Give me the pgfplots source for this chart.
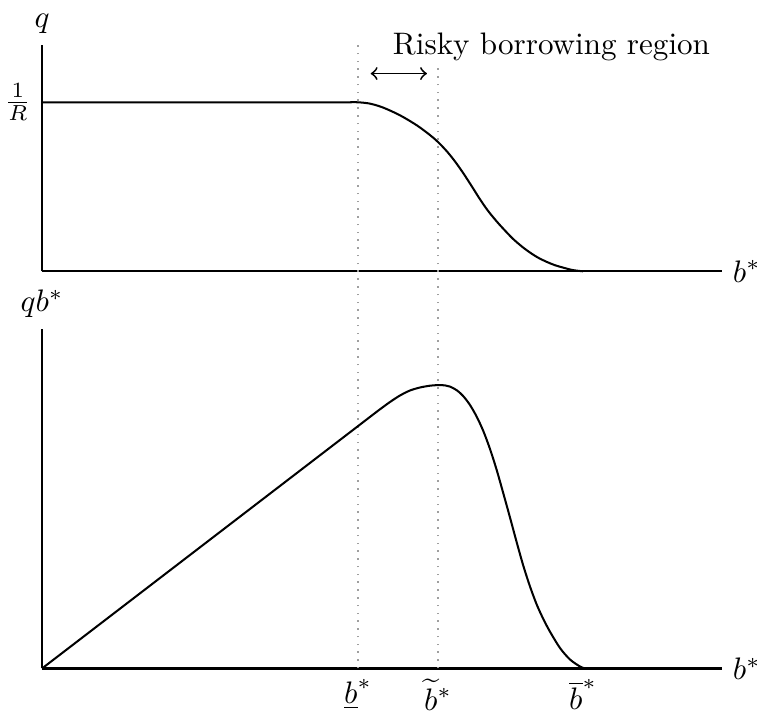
\documentclass[border=0pt]{standalone}
\usepackage{pgfplots}
\pgfplotsset{compat=1.18}

% one drawing unit
\newlength{\du}
\setlength{\du}{0.3216pt}

\pgfplotsset{
  panel/.style={
    scale only axis,
    axis lines=left,
    axis line style={-, line width=0.65pt},
    enlargelimits=false,
    clip=false,
    width=680\du,
    xmin=0, xmax=680,
    ymin=0,
    major tick length=0pt,
    every axis x label/.style={at={(axis description cs:1,0)}, anchor=west},
    every axis y label/.style={at={(axis description cs:0,1)}, anchor=south},
  },
  curve/.style={black, line width=0.65pt, smooth, no markers},
  guide/.style={gray!75, dotted, line width=0.5pt, no markers},
}

\begin{document}
\begin{tikzpicture}
\useasboundingbox (-42\du,-42.5\du) rectangle (715\du,668.5\du);

% price of debt
\begin{axis}[panel,
  at={(0,397.2\du)}, anchor=south west,
  height=226.3\du,
  ymax=1.339,
  xtick=\empty,
  ytick={1}, yticklabels={$\frac{1}{R}$},
  xlabel={$b^*$}, ylabel={$q$},
]
\addplot[curve] coordinates {
  (0,1) (100,1) (200,1) (280,1) (296,1) (306,1) (316,1)
  (328,0.992) (341,0.969) (358,0.923) (375,0.863) (388,0.806)
  (396,0.765) (405,0.709) (413,0.650) (421,0.583) (430,0.501)
  (438,0.426) (446,0.358) (455,0.293) (463,0.241) (471,0.192)
  (480,0.146) (488,0.111) (496,0.081) (505,0.055) (513,0.036)
  (521,0.022) (531,0.007) (541,0)
};
\draw[<->, line width=0.6pt] (axis cs:328.7,1.17) -- (axis cs:385,1.17);
\node[anchor=base] at (axis cs:509.5,1.284) {Risky borrowing region};
\end{axis}

% revenue from debt issuance
\begin{axis}[panel,
  at={(0,0)}, anchor=south west,
  height=339.5\du,
  ymax=339.5,
  ytick=\empty,
  xtick={316,396,541},
  xticklabels={$\underline{b}^*$, $\widetilde{b}^*$, $\overline{b}^*$},
  xlabel={$b^*$}, ylabel={$qb^*$},
]
\addplot[guide] coordinates {(316,0) (316,623.5)};
\addplot[guide] coordinates {(396,0) (396,600.5)};
\addplot[curve] coordinates {
  (0,0) (100,76.7) (200,153.4) (300,230.1) (318,243.9) (328,251.6) (338,259.2)
  (348,266.5) (358,273.0) (368,278.0) (378,281.0) (388,282.8)
  (396.3,283.4) (403,283.1) (408,281.9) (414.7,278.3) (421.3,272.3)
  (428,263.5) (434.7,251.8) (441.3,237.5) (448,219.5) (454.7,198.5)
  (461.3,175.2) (468,151.0) (474.7,126.2) (481.3,102.8) (488,82.0)
  (494.7,64.0) (501.3,49.5) (508,36.8) (518,20.5) (528,9.0) (538,2.0)
  (543,0)
};
\end{axis}
\end{tikzpicture}
\end{document}
